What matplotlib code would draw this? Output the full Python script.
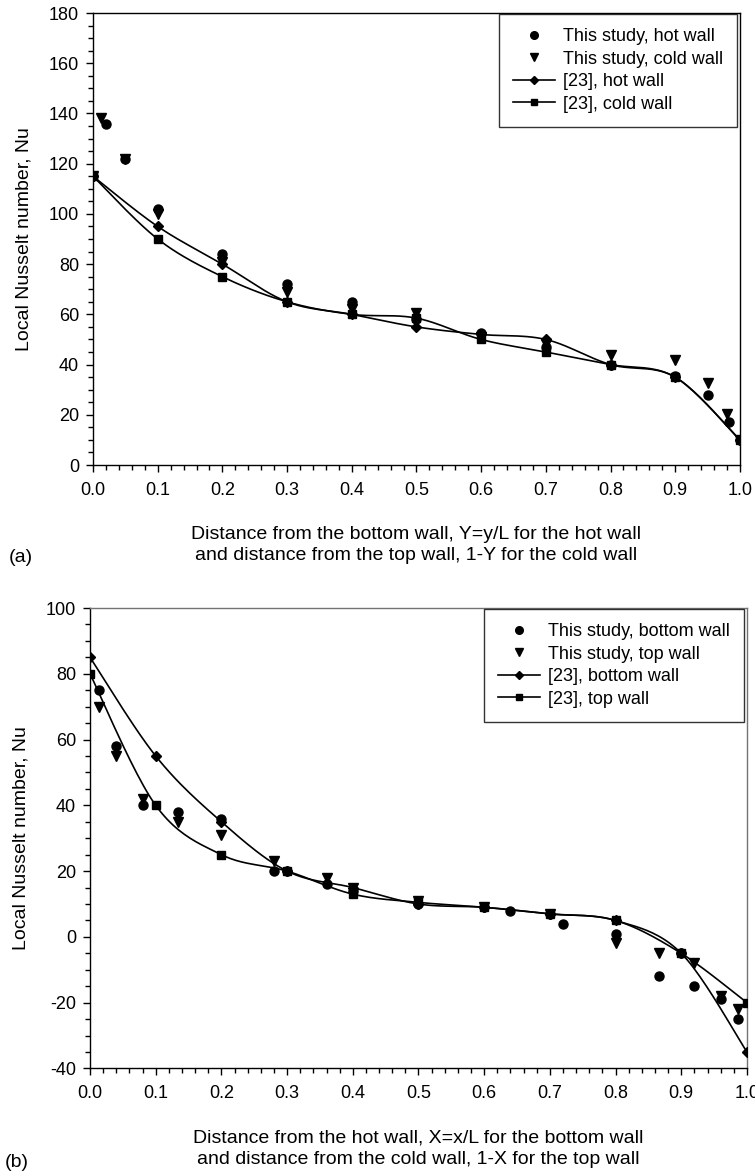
import numpy as np
import matplotlib.pyplot as plt

plt.rcParams['font.family'] = ['Liberation Sans', 'DejaVu Sans']
plt.rcParams['axes.unicode_minus'] = False

# (a) side walls
a_hot_x = [0.0, 0.02, 0.05, 0.1, 0.2, 0.3, 0.4, 0.5, 0.6, 0.7, 0.8, 0.9, 0.95, 0.983, 1.0]
a_hot_nu = [115, 136, 122, 102, 84, 72, 65, 58, 52.5, 47, 40, 35.5, 28, 17, 10]
a_cold_x = [0.0, 0.013, 0.05, 0.1, 0.2, 0.3, 0.4, 0.5, 0.6, 0.7, 0.8, 0.9, 0.95, 0.98, 1.0]
a_cold_nu = [115, 138, 122, 100, 81, 69, 62, 60.5, 51, 48, 44, 42, 32.5, 20.5, 10]
a_ref_x = [0.0, 0.1, 0.2, 0.3, 0.4, 0.5, 0.6, 0.7, 0.8, 0.9, 1.0]
a_ref_hot = [115, 95, 80, 65, 60, 55, 52, 50, 40, 35, 10]
a_ref_cold = [115, 90, 75, 65, 60, 58.5, 50, 45, 40, 35, 10]

# (b) horizontal walls
b_bot_x = [0.013, 0.04, 0.08, 0.134, 0.2, 0.28, 0.3, 0.36, 0.4, 0.5, 0.6, 0.64,
           0.7, 0.72, 0.8, 0.866, 0.9, 0.92, 0.96, 0.987]
b_bot_nu = [75, 58, 40, 38, 36, 20, 20, 16, 14, 10, 9, 8, 7, 4, 1, -12, -5, -15, -19, -25]
b_top_x = [0.013, 0.04, 0.08, 0.134, 0.2, 0.28, 0.36, 0.4, 0.5, 0.6, 0.7, 0.8,
           0.866, 0.92, 0.96, 0.987]
b_top_nu = [70, 55, 42, 35, 31, 23, 18, 15, 11, 9, 7, -2, -5, -8, -18, -22]
b_ref_x = [0.0, 0.1, 0.2, 0.3, 0.4, 0.5, 0.6, 0.7, 0.8, 0.9, 1.0]
b_ref_bot = [85, 55, 35, 20, 15, 10, 9, 7, 5, -5, -35]
b_ref_top = [80, 40, 25, 20, 13, 10.5, 9, 7, 5, -5, -20]

x_ticks = [0.0, 0.1, 0.2, 0.3, 0.4, 0.5, 0.6, 0.7, 0.8, 0.9, 1.0]


def smooth(x, y, yspan, n=24):
    # Catmull-Rom curve through the points, computed in axis-normalised units
    px = np.asarray(x, float)
    py = np.asarray(y, float) / yspan
    px = np.concatenate([[px[0]], px, [px[-1]]])
    py = np.concatenate([[py[0]], py, [py[-1]]])
    t = np.linspace(0, 1, n)[:, None]
    xs, ys = [], []
    for i in range(1, len(px) - 2):
        p0, p1, p2, p3 = (np.array([px[j], py[j]]) for j in range(i - 1, i + 3))
        m1 = (p2 - p0) / 2
        m2 = (p3 - p1) / 2
        h00 = 2 * t**3 - 3 * t**2 + 1
        h10 = t**3 - 2 * t**2 + t
        h01 = -2 * t**3 + 3 * t**2
        h11 = t**3 - t**2
        seg = h00 * p1 + h10 * m1 + h01 * p2 + h11 * m2
        xs.append(seg[:, 0])
        ys.append(seg[:, 1])
    return np.concatenate(xs), np.concatenate(ys) * yspan


def panel(ax, sx1, sy1, sx2, sy2, rx, r1, r2, labels, ylim, ystep, xlabel, tag,
          frame_color='black'):
    yspan = ylim[1] - ylim[0]
    ax.plot(sx1, sy1, 'o', color='black', ms=6.5, zorder=4)
    ax.plot(sx2, sy2, 'v', color='black', ms=6.5, zorder=4)
    for ry, mk, ms in [(r1, 'D', 5.5), (r2, 's', 6)]:
        cx, cy = smooth(rx, ry, yspan)
        ax.plot(cx, cy, '-', color='black', lw=1.2, zorder=3)
        ax.plot(rx, ry, mk, color='black', ms=ms, zorder=3)

    # legend proxies (smaller markers than the data marks)
    ax.plot([], [], 'o', color='black', ms=5.5, label=labels[0])
    ax.plot([], [], 'v', color='black', ms=5.5, label=labels[1])
    ax.plot([], [], '-', marker='D', color='black', lw=1.2, ms=4.5, label=labels[2])
    ax.plot([], [], '-', marker='s', color='black', lw=1.2, ms=4.5, label=labels[3])

    ax.set_xlim(0, 1)
    ax.set_ylim(*ylim)
    ax.set_xticks(x_ticks)
    ax.set_xticks(np.arange(0, 1.001, 0.02), minor=True)
    ax.set_xticklabels([f'{v:.1f}' for v in x_ticks])
    ax.set_yticks(np.arange(ylim[0], ylim[1] + 1, ystep))
    ax.set_yticks(np.arange(ylim[0], ylim[1] + 1, ystep / 4), minor=True)
    ax.tick_params(which='major', direction='out', length=5, width=1, labelsize=13)
    ax.tick_params(axis='x', which='major', pad=7)
    ax.tick_params(axis='y', which='major', pad=5)
    ax.tick_params(which='minor', direction='out', length=3.5, width=1)
    ax.tick_params(top=False, right=False, which='both')
    for s in ax.spines.values():
        s.set_linewidth(1)
    ax.spines['top'].set_color(frame_color)
    ax.spines['right'].set_color(frame_color)
    ax.set_ylabel('Local Nusselt number, Nu', fontsize=14, labelpad=12)
    ax.set_xlabel(xlabel, fontsize=14, labelpad=20, linespacing=1.3)
    ax.text(-0.13, -0.205, tag, transform=ax.transAxes, fontsize=14, va='center')

    leg = ax.legend(loc='upper right', bbox_to_anchor=(0.996, 0.998), borderaxespad=0,
                    fontsize=13, frameon=True, fancybox=False, edgecolor='black',
                    handlelength=2.3, handletextpad=0.45, labelspacing=0.3,
                    borderpad=0.8)
    leg.get_frame().set_linewidth(1)


fig = plt.figure(figsize=(7.55, 11.74), dpi=100)
ax1 = fig.add_axes([0.1232, 0.6039, 0.8568, 0.385])
ax2 = fig.add_axes([0.1192, 0.0899, 0.8702, 0.3922])

panel(ax1, a_hot_x, a_hot_nu, a_cold_x, a_cold_nu, a_ref_x, a_ref_hot, a_ref_cold,
      ['This study, hot wall', 'This study, cold wall', '[23], hot wall', '[23], cold wall'],
      (0, 180), 20,
      'Distance from the bottom wall, Y=y/L for the hot wall\n'
      'and distance from the top wall, 1-Y for the cold wall', '(a)')
panel(ax2, b_bot_x, b_bot_nu, b_top_x, b_top_nu, b_ref_x, b_ref_bot, b_ref_top,
      ['This study, bottom wall', 'This study, top wall', '[23], bottom wall', '[23], top wall'],
      (-40, 100), 20,
      'Distance from the hot wall, X=x/L for the bottom wall\n'
      'and distance from the cold wall, 1-X for the top wall', '(b)',
      frame_color='0.45')

fig.savefig('out.png', dpi=100)
